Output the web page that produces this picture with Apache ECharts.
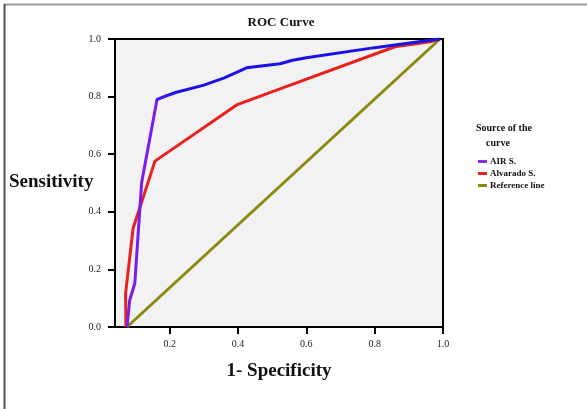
<!DOCTYPE html>
<html><head><meta charset="utf-8">
<script src="https://cdn.jsdelivr.net/npm/echarts@6/dist/echarts.min.js"></script>
<style>html,body{margin:0;padding:0;background:#fff}#c{width:587px;height:409px}</style>
</head><body><div id="c"></div>
<script>
const seriesNames = ['AIR S.', 'Alvarado S.', 'Reference line'];
const airS = [[0.075,0],[0.083,0.093],[0.098,0.152],[0.118,0.502],[0.163,0.79],[0.191,0.803],[0.22,0.815],[0.30,0.84],[0.36,0.865],[0.425,0.90],[0.523,0.914],[0.56,0.926],[0.60,0.935],[0.80,0.97],[0.962,0.996],[0.991,1.0]];
const alvaradoS = [[0.072,0],[0.071,0.117],[0.093,0.343],[0.157,0.576],[0.396,0.771],[0.523,0.827],[0.859,0.973],[0.962,0.99],[0.991,1.0]];
const referenceLine = [[0.075,0],[0.991,1.0]];
const xTicks = [0.2,0.4,0.6,0.8,1.0];
const yTicks = [0.0,0.2,0.4,0.6,0.8,1.0];

const serif = '"Liberation Serif","DejaVu Serif",serif';
const chart = echarts.init(document.getElementById('c'), null, {renderer:'canvas'});
chart.setOption({
  animation:false,
  backgroundColor:'#fff',
  title:{text:'ROC Curve', left:276, top:11, textAlign:'center',
    textStyle:{fontFamily:serif, fontWeight:'bold', fontSize:13, color:'#111'}},
  grid:{left:115, right:144, top:39, bottom:82, show:true, backgroundColor:'#f2f2f2', borderColor:'#000', borderWidth:2,
    containLabel:false, outerBoundsMode:'none'},
  xAxis:{type:'value', min:0.04, max:1.0,
    name:'1- Specificity', nameLocation:'middle', nameGap:35,
    nameTextStyle:{fontFamily:serif, fontWeight:'bold', fontSize:19, color:'#111'},
    axisLine:{lineStyle:{color:'#000', width:2}},
    axisTick:{customValues:xTicks, length:7, lineStyle:{color:'#000', width:2}},
    axisLabel:{customValues:xTicks, margin:12, fontFamily:serif, fontSize:10, color:'#222', formatter:v=>v.toFixed(1)},
    splitLine:{show:false}},
  yAxis:{type:'value', min:0, max:1, interval:0.2,
    axisLine:{show:true, lineStyle:{color:'#000', width:2}},
    axisTick:{show:true, length:7, lineStyle:{color:'#000', width:2}},
    axisLabel:{margin:14, fontFamily:serif, fontSize:10, color:'#222', formatter:v=>v.toFixed(1), customValues:yTicks},
    splitLine:{show:false}},
  legend:{orient:'vertical', left:473, top:152, itemWidth:9, itemHeight:3, itemGap:3, icon:'rect',
    textStyle:{fontFamily:serif, fontWeight:'bold', fontSize:9, color:'#111', padding:[0,0,0,-2]},
    data:[
      {name:seriesNames[0], itemStyle:{color:'#8a2be2'}},
      {name:seriesNames[1], itemStyle:{color:'#e8201e'}},
      {name:seriesNames[2], itemStyle:{color:'#8a8a10'}}
    ]},
  graphic:[
    {type:'text', left:9, top:173, style:{text:'Sensitivity', font:'bold 19px '+serif, fill:'#111'}},
    {type:'text', left:476, top:121, style:{text:'Source of the\n    curve', font:'bold 10px '+serif, fill:'#111', lineHeight:15}},
    {type:'line', shape:{x1:4, y1:4.5, x2:587, y2:4.5}, style:{stroke:'#999', lineWidth:2}},
    {type:'line', shape:{x1:4.5, y1:4, x2:4.5, y2:409}, style:{stroke:'#555', lineWidth:2}}
  ],
  series:[
    {name:seriesNames[2], type:'line', data:referenceLine, showSymbol:false, lineStyle:{color:'#8a8a10', width:3}, itemStyle:{color:'#8a8a10'}},
    {name:seriesNames[1], type:'line', data:alvaradoS, showSymbol:false, lineStyle:{color:'#e8201e', width:3}, itemStyle:{color:'#e8201e'}},
    {name:seriesNames[0], type:'line', data:airS, showSymbol:false,
      lineStyle:{width:3, color:new echarts.graphic.LinearGradient(0,0,0,1,[
        {offset:0,color:'#1a10e8'},{offset:0.19,color:'#1a10e8'},{offset:0.23,color:'#7a1cf0'},{offset:1,color:'#7a1cf0'}])},
      itemStyle:{color:'#8a2be2'}}
  ]
});
</script></body></html>
